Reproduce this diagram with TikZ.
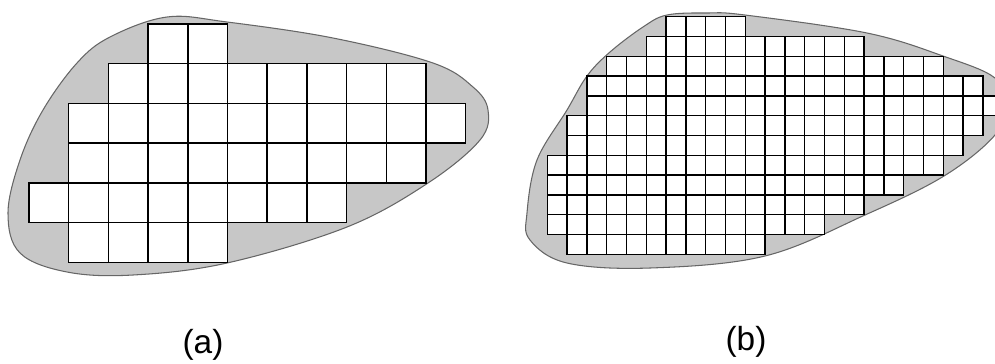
\documentclass[tikz,border=0pt]{standalone}
\usepackage{fontspec}
\setmainfont{Liberation Sans}
\begin{document}
\begin{tikzpicture}[x=0.02cm,y=-0.02cm,
  region/.style={fill=black!22, draw=black!60, line width=0.6pt},
  cellbox/.style={fill=white, draw=black, line width=0.8pt},
  caption/.style={font=\fontsize{19}{22}\selectfont, inner sep=0pt}]
\clip (0,0) rectangle (995,363);

% (a) coarse cells
\draw[region] plot[smooth cycle, tension=0.6] coordinates {(167,17) (227,22) (333,38) (433,63) (473,87) (488,110) (480,140) (428,183) (347,227) (227,263) (133,275) (67,272) (20,253) (8,213) (20,160) (43,110) (77,63) (110,37)};
\foreach \r/\first/\last in {0/3/4, 1/2/9, 2/1/10, 3/1/9, 4/0/7, 5/1/4}
  \foreach \c in {\first,...,\last}
    \draw[cellbox] ({29+39.7*\c},{24+39.7*\r}) rectangle ++(39.7,39.7);

% (b) fine cells
\draw[region] plot[smooth cycle, tension=0.6] coordinates {(707,13) (745,15) (867,33) (943,56) (995,78) (1004,105) (995,135) (944,176) (865,215) (765,256) (650,268) (567,263) (530,240) (527,213) (537,160) (567,110) (587,76) (610,52) (643,27) (667,15)};
\foreach \r/\first/\last in {0/6/9, 1/5/15, 2/3/19, 3/2/21, 4/2/22, 5/1/21, 6/1/20, 7/0/19, 8/0/17, 9/0/15, 10/0/13, 11/1/10}
  \foreach \c in {\first,...,\last}
    \draw[cellbox] ({547.3+19.8*\c},{16.7+19.8*\r}) rectangle ++(19.8,19.8);

\node[caption] (capa) at (203,345) {(a)};
\node[caption] (capb) at (746,342) {(b)};
\end{tikzpicture}
\end{document}
